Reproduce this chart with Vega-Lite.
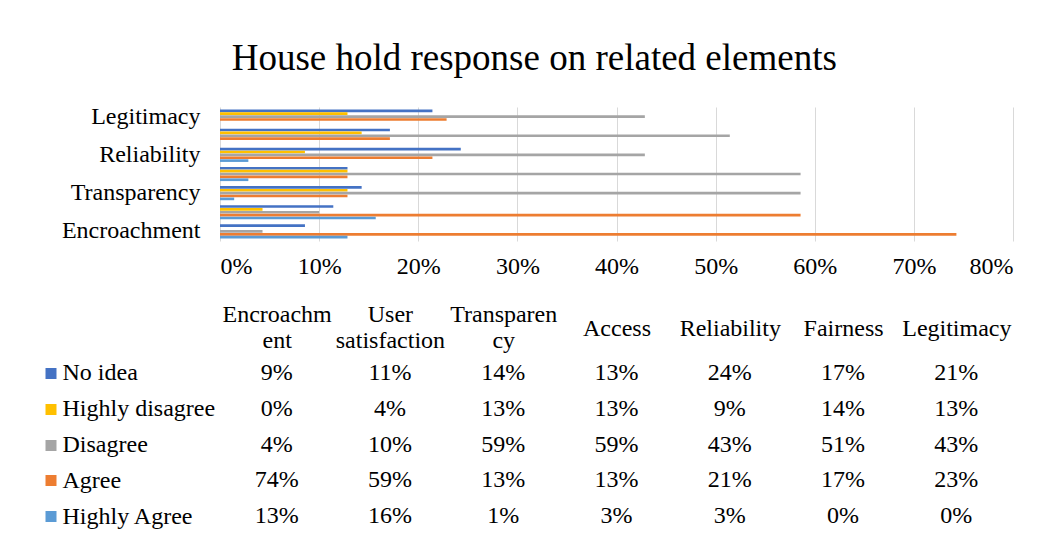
{
  "$schema": "https://vega.github.io/schema/vega-lite/v6.json",
  "background": "white",
  "padding": {"left": 39, "top": 40, "right": 10, "bottom": 10},
  "config": {
    "font": "Liberation Serif",
    "view": {"stroke": null},
    "axis": {"labelFont": "Liberation Serif", "labelColor": "#000000", "labelFontSize": 24}
  },
  "title": {
    "text": "House hold response on related elements",
    "font": "Liberation Serif",
    "fontSize": 37,
    "fontWeight": "normal",
    "color": "#000000",
    "anchor": "middle",
    "dx": 8,
    "offset": 26
  },
  "data": {
    "values": [
      {"category": "Encroachment", "series": "No idea", "value": 0.0857},
      {"category": "Encroachment", "series": "Highly disagree", "value": 0},
      {"category": "Encroachment", "series": "Disagree", "value": 0.0429},
      {"category": "Encroachment", "series": "Agree", "value": 0.7429},
      {"category": "Encroachment", "series": "Highly Agree", "value": 0.1286},
      {"category": "User satisfaction", "series": "No idea", "value": 0.1143},
      {"category": "User satisfaction", "series": "Highly disagree", "value": 0.0429},
      {"category": "User satisfaction", "series": "Disagree", "value": 0.1},
      {"category": "User satisfaction", "series": "Agree", "value": 0.5857},
      {"category": "User satisfaction", "series": "Highly Agree", "value": 0.1571},
      {"category": "Transparency", "series": "No idea", "value": 0.1429},
      {"category": "Transparency", "series": "Highly disagree", "value": 0.1286},
      {"category": "Transparency", "series": "Disagree", "value": 0.5857},
      {"category": "Transparency", "series": "Agree", "value": 0.1286},
      {"category": "Transparency", "series": "Highly Agree", "value": 0.0143},
      {"category": "Access", "series": "No idea", "value": 0.1286},
      {"category": "Access", "series": "Highly disagree", "value": 0.1286},
      {"category": "Access", "series": "Disagree", "value": 0.5857},
      {"category": "Access", "series": "Agree", "value": 0.1286},
      {"category": "Access", "series": "Highly Agree", "value": 0.0286},
      {"category": "Reliability", "series": "No idea", "value": 0.2429},
      {"category": "Reliability", "series": "Highly disagree", "value": 0.0857},
      {"category": "Reliability", "series": "Disagree", "value": 0.4286},
      {"category": "Reliability", "series": "Agree", "value": 0.2143},
      {"category": "Reliability", "series": "Highly Agree", "value": 0.0286},
      {"category": "Fairness", "series": "No idea", "value": 0.1714},
      {"category": "Fairness", "series": "Highly disagree", "value": 0.1429},
      {"category": "Fairness", "series": "Disagree", "value": 0.5143},
      {"category": "Fairness", "series": "Agree", "value": 0.1714},
      {"category": "Fairness", "series": "Highly Agree", "value": 0},
      {"category": "Legitimacy", "series": "No idea", "value": 0.2143},
      {"category": "Legitimacy", "series": "Highly disagree", "value": 0.1286},
      {"category": "Legitimacy", "series": "Disagree", "value": 0.4286},
      {"category": "Legitimacy", "series": "Agree", "value": 0.2286},
      {"category": "Legitimacy", "series": "Highly Agree", "value": 0}
    ]
  },
  "spacing": 114,
  "bounds": "flush",
  "vconcat": [
    {
      "width": 793,
      "height": 134,
      "mark": {"type": "bar"},
      "encoding": {
        "y": {
          "field": "category",
          "type": "nominal",
          "sort": ["Legitimacy", "Fairness", "Reliability", "Access", "Transparency", "User satisfaction", "Encroachment"],
          "scale": {"paddingInner": 0.26, "paddingOuter": 0.13},
          "axis": {
            "title": null,
            "ticks": false,
            "domain": false,
            "labelPadding": 20,
            "labelFontSize": 24,
            "labelExpr": "indexof(['Encroachment','Transparency','Reliability','Legitimacy'], datum.value) >= 0 ? datum.value : ''"
          }
        },
        "yOffset": {
          "field": "series",
          "type": "nominal",
          "sort": ["No idea", "Highly disagree", "Disagree", "Agree", "Highly Agree"],
          "scale": {"paddingInner": 0.08}
        },
        "x": {
          "field": "value",
          "type": "quantitative",
          "scale": {"domain": [0, 0.8], "nice": false},
          "axis": {
            "title": null,
            "values": [0, 0.1, 0.2, 0.3, 0.4, 0.5, 0.6, 0.7, 0.8],
            "format": ".0%",
            "grid": true,
            "gridColor": "#D9D9D9",
            "gridWidth": 1,
            "domain": false,
            "ticks": false,
            "labelPadding": 13,
            "labelFontSize": 24
          }
        },
        "color": {
          "field": "series",
          "type": "nominal",
          "scale": {
            "domain": ["No idea", "Highly disagree", "Disagree", "Agree", "Highly Agree"],
            "range": ["#4472C4", "#FFC000", "#A5A5A5", "#ED7D31", "#5B9BD5"]
          },
          "legend": null
        }
      }
    },
    {
      "width": 793,
      "height": 179,
      "mark": {"type": "text", "fontSize": 24, "font": "Liberation Serif", "color": "#000000"},
      "encoding": {
        "x": {
          "field": "category",
          "type": "nominal",
          "sort": ["Encroachment", "User satisfaction", "Transparency", "Access", "Reliability", "Fairness", "Legitimacy"],
          "scale": {"paddingInner": 0, "paddingOuter": 0},
          "axis": {
            "orient": "top",
            "title": null,
            "domain": false,
            "ticks": false,
            "tickSize": 0,
            "labelPadding": {
              "condition": {"test": "indexof(['Encroachment','User satisfaction','Transparency'], datum.value) >= 0", "value": 41},
              "value": 27
            },
            "labelBaseline": "middle",
            "labelAngle": 0,
            "labelOverlap": false,
            "labelFontSize": 24,
            "labelLineHeight": 26,
            "labelExpr": "datum.value == 'Encroachment' ? ['Encroachm', 'ent'] : datum.value == 'User satisfaction' ? ['User', 'satisfaction'] : datum.value == 'Transparency' ? ['Transparen', 'cy'] : datum.value"
          }
        },
        "y": {
          "field": "series",
          "type": "nominal",
          "sort": ["No idea", "Highly disagree", "Disagree", "Agree", "Highly Agree"],
          "scale": {"paddingInner": 0, "paddingOuter": 0},
          "axis": {
            "orient": "left",
            "title": null,
            "domain": false,
            "offset": 164,
            "tickSize": 11,
            "tickWidth": 11,
            "bandPosition": 0.5,
            "tickColor": {
              "condition": [
                {"test": "datum.value === 'No idea'", "value": "#4472C4"},
                {"test": "datum.value === 'Highly disagree'", "value": "#FFC000"},
                {"test": "datum.value === 'Disagree'", "value": "#A5A5A5"},
                {"test": "datum.value === 'Agree'", "value": "#ED7D31"}
              ],
              "value": "#5B9BD5"
            },
            "labelAlign": "left",
            "labelPadding": -17,
            "labelBaseline": "middle",
            "labelFontSize": 24
          }
        },
        "text": {"field": "value", "type": "quantitative", "format": ".0%"}
      }
    }
  ]
}
